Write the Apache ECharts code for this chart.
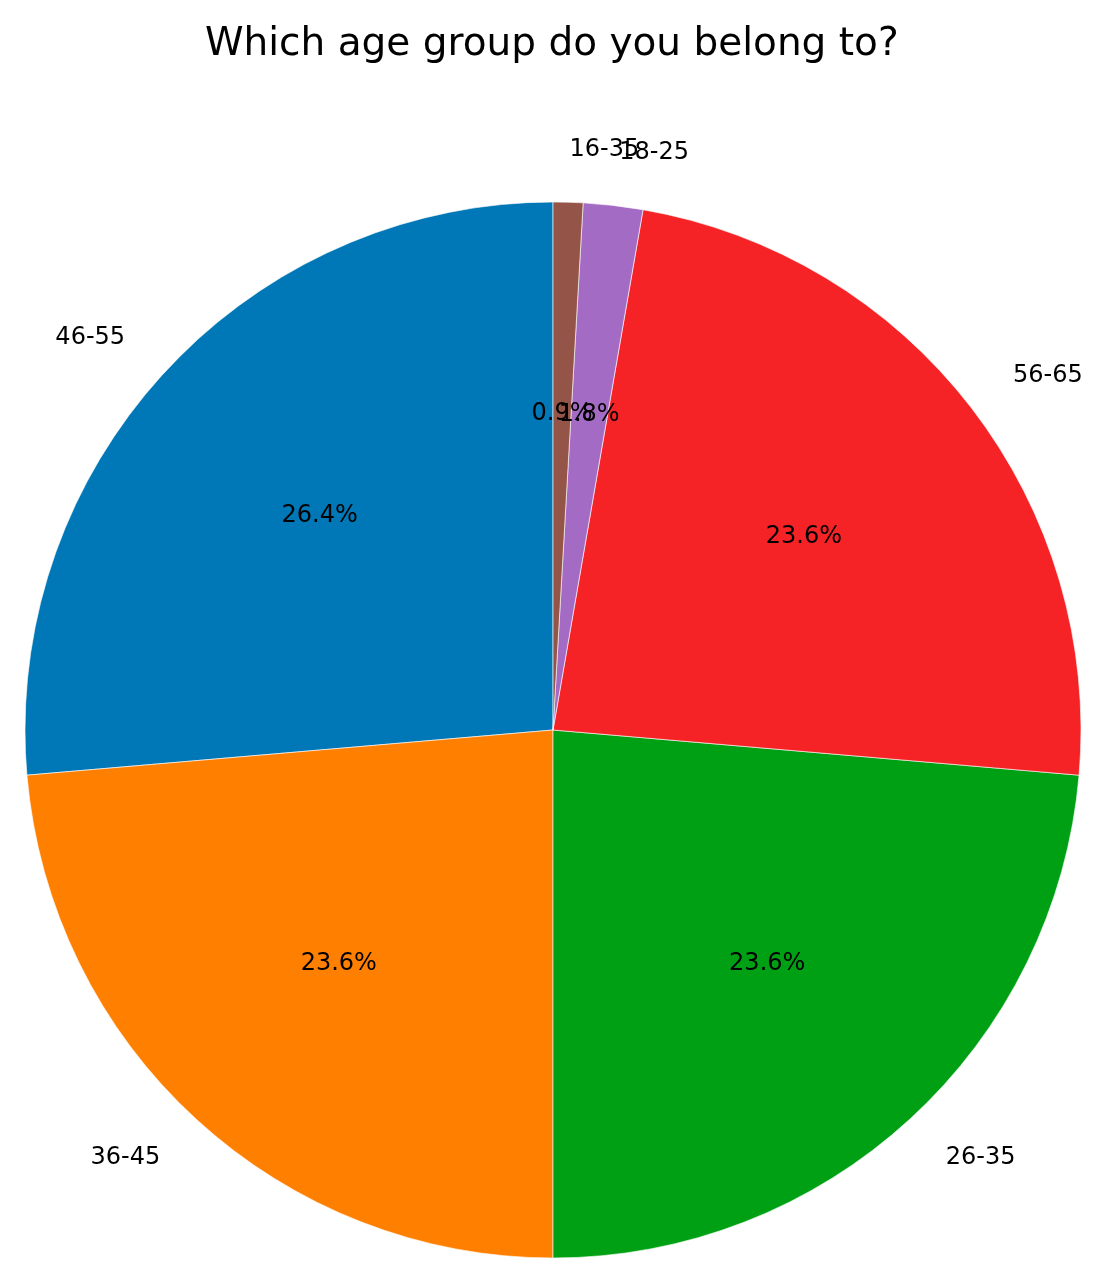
<!DOCTYPE html>
<html>
<head>
<meta charset="utf-8">
<script src="https://cdn.jsdelivr.net/npm/echarts@6/dist/echarts.min.js"></script>
<style>
html,body{margin:0;padding:0;background:#fff;}
#chart{width:1119px;height:1282px;}
</style>
</head>
<body>
<div id="chart"></div>
<script>
const titleText = 'Which age group do you belong to?';
const categories = ['46-55', '36-45', '26-35', '56-65', '18-25', '16-35'];
const counts = [29, 26, 26, 26, 2, 1];
const colors = ['#0077b6', '#ff7f00', '#00a014', '#f52325', '#a46bc4', '#955448'];

const total = counts.reduce((a, b) => a + b, 0);
const R = 528;
const FONT = 'DejaVu Sans';

const chart = echarts.init(document.getElementById('chart'), null, {renderer: 'canvas'});

const mainData = categories.map((c, i) => ({
  name: c,
  value: counts[i],
  itemStyle: {color: colors[i]}
}));
const pctData = categories.map((c, i) => ({name: c, value: counts[i]}));

chart.setOption({
  backgroundColor: '#ffffff',
  animation: false,
  title: {
    text: titleText,
    left: 200,
    top: 20,
    textStyle: {fontFamily: FONT, fontSize: 39, fontWeight: 'normal', color: '#000'}
  },
  series: [
    {
      type: 'pie',
      center: [553, 730],
      radius: [0, R],
      startAngle: 90,
      clockwise: false,
      avoidLabelOverlap: false,
      minShowLabelAngle: 0,
      silent: true,
      data: mainData,
      itemStyle: {borderColor: 'rgba(255,255,255,0.6)', borderWidth: 1},
      label: {
        show: true,
        position: 'outside',
        formatter: '{b}',
        fontFamily: FONT,
        fontSize: 24,
        color: '#000',
        distanceToLabelLine: 0
      },
      labelLine: {show: false, length: R * 0.1, length2: 0},
      labelLayout: {hideOverlap: false, moveOverlap: null},
      emphasis: {disabled: true}
    },
    {
      type: 'pie',
      center: [553, 730],
      radius: [0, R * 1.2 - 6],
      startAngle: 90,
      clockwise: false,
      avoidLabelOverlap: false,
      minShowLabelAngle: 0,
      silent: true,
      data: pctData,
      itemStyle: {color: 'rgba(0,0,0,0)', borderWidth: 0},
      label: {
        show: true,
        position: 'inside',
        formatter: p => (p.value / total * 100).toFixed(1) + '%',
        fontFamily: FONT,
        fontSize: 24,
        color: '#000'
      },
      labelLine: {show: false},
      labelLayout: {hideOverlap: false, moveOverlap: null},
      emphasis: {disabled: true}
    }
  ]
});
</script>
</body>
</html>
